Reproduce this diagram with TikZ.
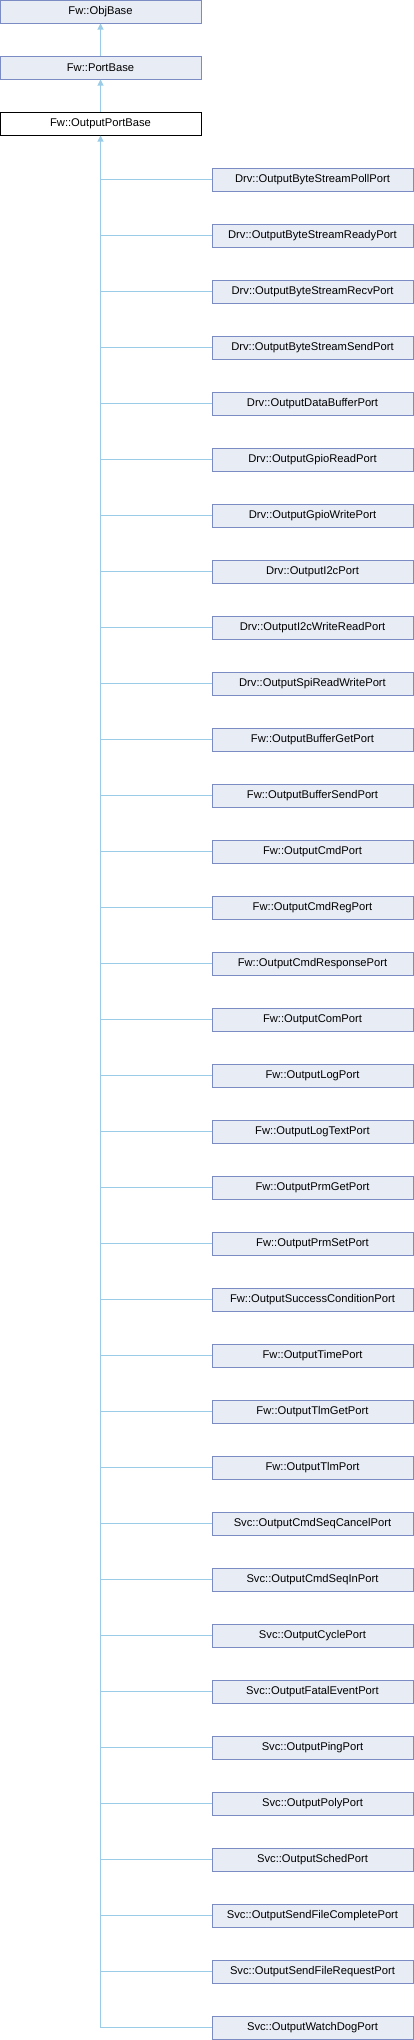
\documentclass[tikz,border=0pt]{standalone}
\usepackage{fontspec}
\setmainfont{Liberation Sans}
\usepackage{tikz}
\usetikzlibrary{arrows.meta, positioning}
\definecolor{dgboxfill}{HTML}{E8ECF5}
\definecolor{dgboxline}{HTML}{7B8CC4}
\definecolor{dgedge}{HTML}{9ACCE8}
\tikzset{
  classbox/.style={draw=dgboxline, fill=dgboxfill, line width=1pt,
                   minimum width=201pt, minimum height=23pt, inner sep=0pt,
                   font=\fontsize{11.2}{13}\selectfont},
  curbox/.style={classbox, draw=black, fill=white},
  inherit/.style={-{Triangle[length=6pt,width=6pt]}, draw=dgedge, line width=1pt},
  branch/.style={draw=dgedge, line width=1pt}
}
\begin{document}
\begin{tikzpicture}[x=1pt,y=-1pt]
  \useasboundingbox (0,0) rectangle (414,2040);

  \node[classbox] (objbase) at (100.5, 11.5) {Fw::ObjBase};
  \node[classbox] (portbase) at (100.5, 67.5) {Fw::PortBase};
  \node[curbox] (outbase) at (100.5, 123.5) {Fw::OutputPortBase};

  \draw[inherit] (portbase) -- (objbase);
  \draw[inherit] (outbase) -- (portbase);

  % derived output ports
  \foreach \pname [count=\i] in {Drv::OutputByteStreamPollPort, Drv::OutputByteStreamReadyPort,
      Drv::OutputByteStreamRecvPort, Drv::OutputByteStreamSendPort, Drv::OutputDataBufferPort,
      Drv::OutputGpioReadPort, Drv::OutputGpioWritePort, Drv::OutputI2cPort,
      Drv::OutputI2cWriteReadPort, Drv::OutputSpiReadWritePort, Fw::OutputBufferGetPort,
      Fw::OutputBufferSendPort, Fw::OutputCmdPort, Fw::OutputCmdRegPort,
      Fw::OutputCmdResponsePort, Fw::OutputComPort, Fw::OutputLogPort, Fw::OutputLogTextPort,
      Fw::OutputPrmGetPort, Fw::OutputPrmSetPort, Fw::OutputSuccessConditionPort,
      Fw::OutputTimePort, Fw::OutputTlmGetPort, Fw::OutputTlmPort, Svc::OutputCmdSeqCancelPort,
      Svc::OutputCmdSeqInPort, Svc::OutputCyclePort, Svc::OutputFatalEventPort,
      Svc::OutputPingPort, Svc::OutputPolyPort, Svc::OutputSchedPort,
      Svc::OutputSendFileCompletePort, Svc::OutputSendFileRequestPort, Svc::OutputWatchDogPort}{
    \node[classbox] (port\i) at (312.5, 123.5+56*\i) {\pname};
    \draw[branch] (port\i.west) -- (port\i.west -| outbase.south);
  }

  \draw[inherit] (port34.west -| outbase.south) -- (outbase.south);
\end{tikzpicture}
\end{document}
